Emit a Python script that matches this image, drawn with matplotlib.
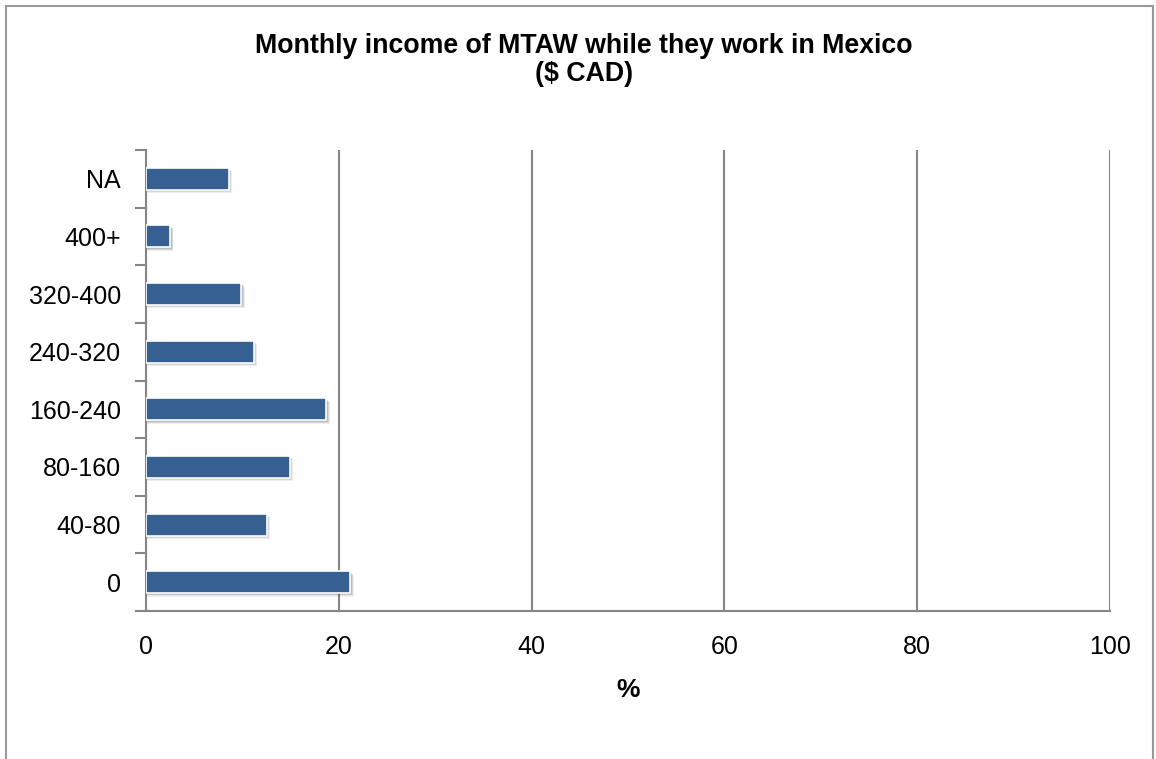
import matplotlib.pyplot as plt
from matplotlib.patches import Rectangle

categories = ['0', '40-80', '80-160', '160-240', '240-320', '320-400', '400+', 'NA']
values = [21.2, 12.5, 14.9, 18.7, 11.2, 9.9, 2.5, 8.6]
xticks = [0, 20, 40, 60, 80, 100]

plt.rcParams['font.family'] = ['Liberation Sans', 'DejaVu Sans']

fig = plt.figure(figsize=(11.56, 7.59), dpi=100)
# outer chart border
fig.patches.append(Rectangle((6 / 1156, -0.01), (1153 - 6) / 1156, 1 - 6 / 759 + 0.01,
                             transform=fig.transFigure, fill=False,
                             edgecolor='#9a9a9a', linewidth=1.5))

ax = fig.add_axes([146 / 1156, 1 - 611 / 759, (1110 - 146) / 1156, (611 - 150) / 759])

pos = list(range(len(categories)))
h = 0.38
# soft shadow under the bars
for dx, dy, a in [(0.35, -0.06, 0.10), (0.25, -0.04, 0.15), (0.15, -0.025, 0.2)]:
    ax.barh([p + dy for p in pos], [v + dx for v in values], height=h,
            color='#555555', alpha=a, linewidth=0, zorder=2)
ax.barh(pos, values, height=h, color='#366092', edgecolor='white',
        linewidth=1.2, zorder=3)

ax.set_xlim(0, 100)
ax.set_ylim(-0.5, len(categories) - 0.5)
ax.set_xticks(xticks)
ax.set_xticklabels([str(t) for t in xticks], fontsize=18)
ax.set_yticks(pos)
ax.set_yticklabels(categories, fontsize=18)
ax.tick_params(axis='y', length=0, pad=18)
ax.tick_params(axis='x', length=0, pad=17)

# minor ticks at category boundaries / major positions
ax.set_yticks([p - 0.5 for p in pos] + [len(categories) - 0.5], minor=True)
ax.set_xticks(xticks, minor=True)
ax.tick_params(which='minor', length=8, width=1.5, color='#868686', direction='out')

ax.xaxis.grid(True, color='#868686', linewidth=1.5, zorder=0)
ax.set_axisbelow(True)
for s in ['top', 'right']:
    ax.spines[s].set_visible(False)
for s in ['left', 'bottom']:
    ax.spines[s].set_color('#868686')
    ax.spines[s].set_linewidth(1.5)

ax.set_xlabel('%', fontsize=19, fontweight='bold', labelpad=14)
fig.text(584 / 1156, 1 - 60 / 759, 'Monthly income of MTAW while they work in Mexico\n($ CAD)',
         ha='center', va='center', fontsize=19.3, fontweight='bold', linespacing=1.08)

fig.savefig('out.png', dpi=100)
